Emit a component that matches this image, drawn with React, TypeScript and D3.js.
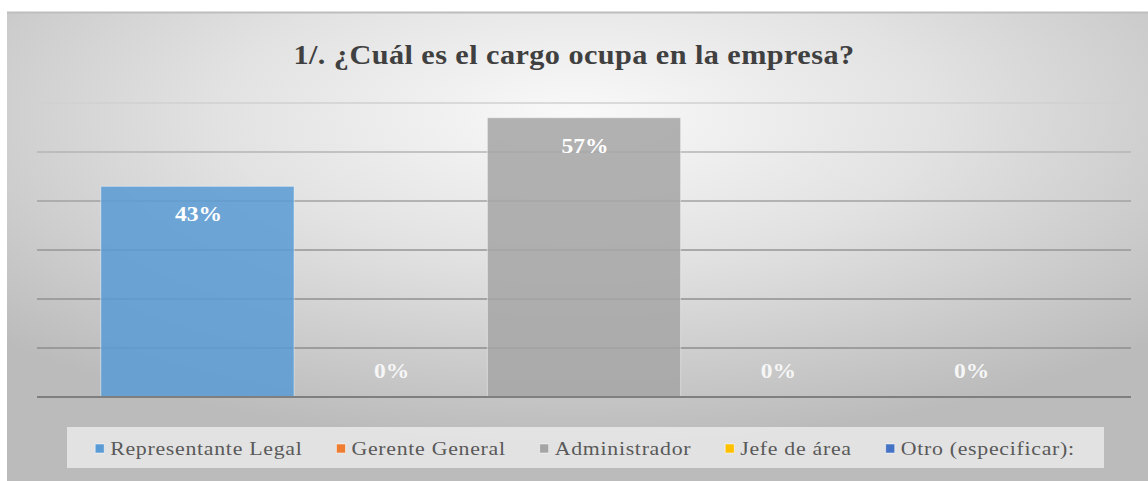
import React, { useEffect, useRef } from 'react';
import * as d3 from 'd3';

const seriesNames = ['Representante Legal', 'Gerente General', 'Administrador', 'Jefe de área', 'Otro (especificar):'];
const seriesValues = [0.43, 0, 0.57, 0, 0];
const seriesColors = ['#5B9BD5', '#ED7D31', '#A5A5A5', '#FFC000', '#4472C4'];
const yTicks = [0, 0.1, 0.2, 0.3, 0.4, 0.5, 0.6];
const chartTitle = '1/. ¿Cuál es el cargo ocupa en la empresa?';

const FONT = '"Liberation Serif", "Times New Roman", serif';

// stretch text horizontally (the reference is a horizontally widened render)
function stretch(sel: d3.Selection<SVGTextElement, any, any, any>, factor: number) {
  sel.each(function () {
    const w = this.getComputedTextLength();
    d3.select(this).attr('textLength', w * factor).attr('lengthAdjust', 'spacingAndGlyphs');
  });
}

export default function App() {
  const ref = useRef<SVGSVGElement>(null);

  useEffect(() => {
    const W = 1148, H = 481;
    const svg = d3.select(ref.current);
    svg.selectAll('*').remove();

    const defs = svg.append('defs');
    const rg = defs.append('radialGradient').attr('id', 'bg')
      .attr('cx', '50%').attr('cy', '22%').attr('r', '70%');
    rg.append('stop').attr('offset', '0%').attr('stop-color', '#f9f9f9');
    rg.append('stop').attr('offset', '45%').attr('stop-color', '#e2e2e2');
    rg.append('stop').attr('offset', '100%').attr('stop-color', '#bbbbbb');

    // chart area background
    svg.append('rect').attr('x', 7).attr('y', 12).attr('width', W - 7).attr('height', H - 12)
      .attr('fill', 'url(#bg)');
    svg.append('line').attr('x1', 7).attr('x2', W).attr('y1', 12.5).attr('y2', 12.5)
      .attr('stroke', '#bdbdbd').attr('stroke-width', 2);

    // title
    const t = svg.append('text').text(chartTitle)
      .attr('x', 574).attr('y', 64)
      .attr('text-anchor', 'middle')
      .attr('font-family', FONT).attr('font-weight', 'bold').attr('font-size', 28)
      .style('letter-spacing', '0.4px')
      .attr('fill', '#404040');
    stretch(t as any, 1.08);

    const x = d3.scaleBand<string>().domain(seriesNames).range([37, 1131])
      .paddingInner(0).paddingOuter(0.33);
    const y = d3.scaleLinear().domain([0, 0.6]).range([397, 103]);

    const gridColor = (v: number) => d3.interpolateRgb('#8e8e8e', '#d0d0d0')(Math.pow(v / 0.6, 3));

    // gridlines
    svg.append('g').selectAll('line').data(yTicks.filter(v => v > 0)).join('line')
      .attr('x1', 37).attr('x2', 1131)
      .attr('y1', d => y(d)).attr('y2', d => y(d))
      .attr('stroke', d => gridColor(d)).attr('stroke-width', 1.6);

    // bars
    svg.append('g').selectAll('rect').data(seriesNames).join('rect')
      .attr('x', d => x(d)!)
      .attr('width', x.bandwidth())
      .attr('y', (d, i) => y(seriesValues[i]))
      .attr('height', (d, i) => y(0) - y(seriesValues[i]))
      .attr('fill', (d, i) => seriesColors[i])
      .attr('fill-opacity', 0.86)
      .attr('stroke', 'rgba(255,255,255,0.45)').attr('stroke-width', 1);

    // baseline
    svg.append('line').attr('x1', 37).attr('x2', 1131).attr('y1', y(0)).attr('y2', y(0))
      .attr('stroke', '#7f7f7f').attr('stroke-width', 2);

    // data labels
    const labels = svg.append('g').selectAll('text').data(seriesNames).join('text')
      .text((d, i) => `${Math.round(seriesValues[i] * 100)}%`)
      .attr('x', d => x(d)! + x.bandwidth() / 2 + 1)
      .attr('y', (d, i) => Math.min(y(seriesValues[i]) + 35, y(0) - 19))
      .attr('text-anchor', 'middle')
      .attr('font-family', FONT).attr('font-weight', 'bold').attr('font-size', 21)
      .attr('fill', (d, i) => seriesValues[i] > 0 ? '#ffffff' : '#f6f6f6');
    stretch(labels as any, 1.12);

    // legend
    const lg = svg.append('g');
    lg.append('rect').attr('x', 67).attr('y', 427).attr('width', 1037).attr('height', 41)
      .attr('fill', '#ececec').attr('fill-opacity', 0.8);
    const items = lg.selectAll('g.item').data(seriesNames).join('g').attr('class', 'item');
    items.append('rect').attr('width', 9).attr('height', 9).attr('y', 444)
      .attr('fill', (d, i) => seriesColors[i])
      .attr('stroke', 'rgba(255,255,255,0.6)').attr('stroke-width', 0.8);
    const texts = items.append('text').text(d => d)
      .attr('y', 455)
      .attr('font-family', FONT).attr('font-size', 18.5)
      .style('letter-spacing', '0.6px')
      .attr('fill', '#595959');
    stretch(texts as any, 1.18);
    const widths: number[] = [];
    texts.each(function () { widths.push(+(this as SVGTextElement).getAttribute('textLength')!); });
    const sq = 9, sqGap = 6, itemGap = 34;
    const total = d3.sum(widths) + seriesNames.length * (sq + sqGap) + (seriesNames.length - 1) * itemGap;
    let cx = 585 - total / 2;
    items.each(function (d, i) {
      const g = d3.select(this);
      g.select('rect').attr('x', cx);
      g.select('text').attr('x', cx + sq + sqGap);
      cx += sq + sqGap + widths[i] + itemGap;
    });
  }, []);

  return <svg ref={ref} width={1148} height={481} style={{ position: 'absolute', left: 0, top: 0 }} />;
}
